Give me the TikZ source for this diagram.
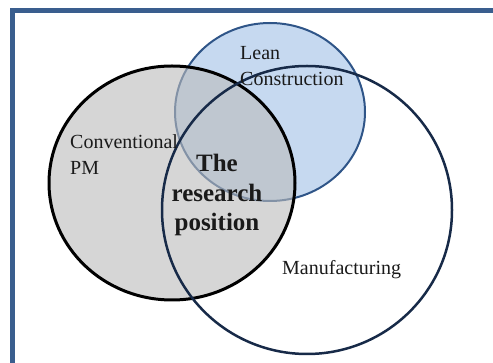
\documentclass[tikz,border=0pt]{standalone}
\usepackage{fontspec}
\setmainfont{Liberation Serif}
\usepackage{xcolor}
\definecolor{frameblue}{HTML}{3A5E8E}
\definecolor{leanfill}{HTML}{C6D9F0}
\definecolor{leanline}{HTML}{2F5588}
\definecolor{pmfill}{HTML}{BBBBBB}
\definecolor{mfgline}{HTML}{172A48}
\definecolor{txt}{HTML}{1A1A1A}
\tikzset{
  lbl/.style={inner sep=0pt,anchor=north west,align=left,text=txt,
    font=\fontsize{20}{26}\selectfont},
  core/.style={inner sep=0pt,anchor=north,align=center,text=txt,
    font=\fontsize{25}{29.5}\selectfont\bfseries}
}

\begin{document}
\begin{tikzpicture}[x=1pt,y=-1pt]
\useasboundingbox (0,0) rectangle (493,363);
\draw[frameblue,line width=5pt] (12.5,363) -- (12.5,10.5) -- (493,10.5);
\draw[leanline,line width=2pt,fill=leanfill] (270,112) ellipse (95pt and 89pt);
\draw[black,line width=3pt,fill=pmfill,fill opacity=.6] (172,183) ellipse (123pt and 117pt);
\draw[mfgline,line width=2.5pt] (307,210) ellipse (145pt and 144pt);
\node[lbl] (lean) at (240,46) {Lean\\Construction};
\node[lbl] (pm) at (70,134) {Conventional\\PM};
\node[lbl] (mfg) at (282,260) {Manufacturing};
\node[core] (pos) at (217,154) {The\\research\\position};
\end{tikzpicture}
\end{document}
